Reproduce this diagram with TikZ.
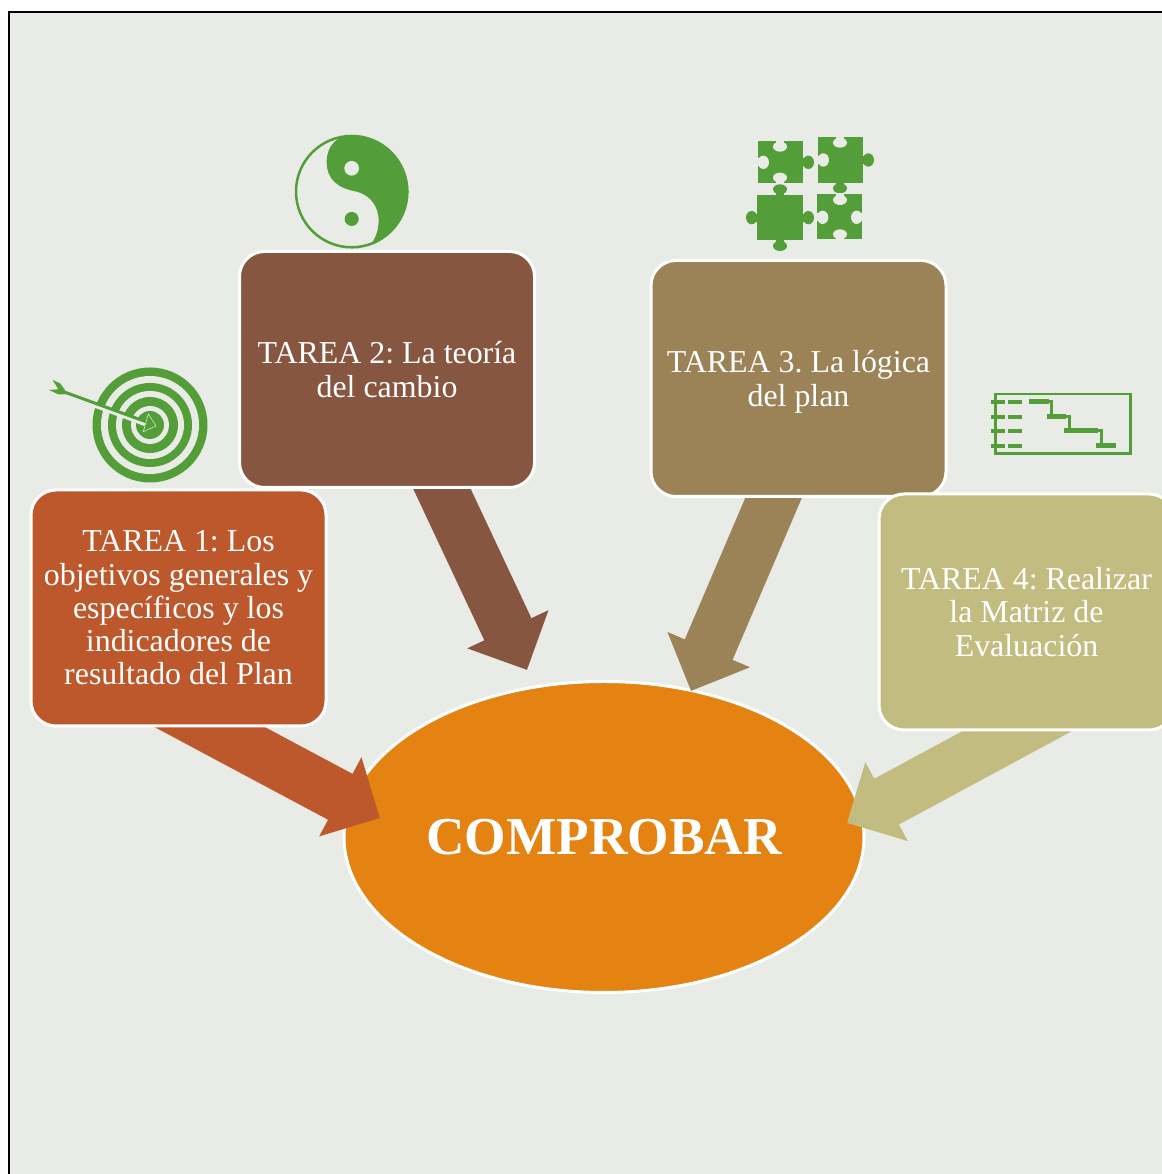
\documentclass[tikz,border=0pt]{standalone}
\usepackage{fontspec}
\setmainfont{Liberation Serif}
\usetikzlibrary{positioning,arrows.meta,backgrounds,shapes.geometric}
\definecolor{pagecol}{HTML}{E9EBE6}
\definecolor{iconcol}{HTML}{549E39}
\definecolor{goalcol}{HTML}{E48312}
\definecolor{taskcol1}{HTML}{BD582C}
\definecolor{taskcol2}{HTML}{865640}
\definecolor{taskcol3}{HTML}{9B8357}
\definecolor{taskcol4}{HTML}{C2BC80}
\tikzset{
    taskbox/.style={draw=white, line width=3pt, rounded corners=25pt, minimum width=295pt, minimum height=236pt,
        inner sep=0pt, align=center, text=white, font=\fontsize{31.9}{33.2}\selectfont\frenchspacing},
    goalcycle/.style={ellipse, draw=white, fill=goalcol, line width=3pt, line join=round, minimum width=520pt, minimum height=311pt,
        inner sep=0pt, text=white, font=\fontsize{53.3}{56}\selectfont\bfseries},
    taskarrow/.style={-{Triangle[length=45pt,width=87pt]}, line width=52pt, shorten <=-70pt},
}

\begin{document}
\begin{tikzpicture}[x=1pt,y=1pt]
\useasboundingbox (0,0) rectangle (1161,1174);

\node[taskbox,fill=taskcol1] (t1) at (178.5,566) {TAREA 1: Los\\objetivos generales y\\específicos y los\\indicadores de\\resultado del Plan};
\node[taskbox,fill=taskcol2] (t2) at (387,804.5) {TAREA 2: La teoría\\del cambio};
\node[taskbox,fill=taskcol3] (t3) at (798.5,795.5) {TAREA 3. La lógica\\del \smash{p}lan};
\node[taskbox,fill=taskcol4] (t4) at (1026.5,562) {TAREA 4: Realizar\\la Matriz de\\Evaluación};

\coordinate (tip1) at (380,356);
\coordinate (tip2) at (527,504);
\coordinate (tip3) at (691,483);
\coordinate (tip4) at (847,351);

%=========================
% Page, goal and arrows
%=========================
\begin{scope}[on background layer]
  \draw[black,line width=1.5pt,fill=pagecol] (9,1162) rectangle (1175,-10);
  \node[goalcycle] (goal) at (604,337) {COMPROBAR};
  \foreach \i/\dx in {1/32,2/55,3/-25,4/-10}{
    \draw[taskarrow,draw=taskcol\i] ([xshift=\dx pt]t\i.south) -- (tip\i);
  }
\end{scope}

% target
\foreach \r/\c in {57.5/iconcol,49/pagecol,42/iconcol,34/pagecol,28/iconcol,19/pagecol,14/iconcol}{
  \fill[\c] (150,749) circle (\r);
}
\begin{scope}[shift={(30,824)},x=0.3333pt,y=-0.3333pt]
  \draw[pagecol,line width=4.2pt] (195,167) -- (345,222);
  \draw[iconcol,line width=3pt] (100,125) -- (350,216);
  \fill[iconcol] (68,90) -- (90,100) -- (105,120) -- (105,133) -- (85,133) -- (57,120) -- (85,118) -- cycle;
  \draw[pagecol,fill=iconcol,line width=0.5pt] (355,192) -- (378,228) -- (340,245) -- cycle;
\end{scope}

% yin yang
\begin{scope}[shift={(280,1049)},x=0.3333pt,y=-0.3333pt]
  \draw[iconcol,line width=2.5pt] (215,200) circle (167);
  \begin{scope}
    \clip (215,200) circle (170);
    \fill[iconcol] (215,20) -- (400,20) -- (400,385) -- (255,385) -- (262,368)
      .. controls (305,335) and (320,225) .. (230,200)
      .. controls (175,190) and (140,165) .. (140,110)
      .. controls (140,60) and (175,30) .. (215,30) -- cycle;
  \end{scope}
  \fill[pagecol] (215,130) circle (22);
  \fill[iconcol] (215,282) circle (21);
\end{scope}

% puzzle
\begin{scope}[shift={(730,1054)},x=0.3333pt,y=-0.3333pt]
  \fill[iconcol] (83,64) rectangle (219,188);
  \fill[iconcol] (263,52) rectangle (398,188);
  \fill[iconcol] (82,226) rectangle (218,361);
  \fill[iconcol] (262,223) rectangle (397,358);
  % knobs
  \foreach \x/\y/\ex/\ey/\rx/\ry in {235/127/215/127/17/20,415/120/394/120/17/20,330/205/330/184/21/15,150/208/150/230/21/15,
                                     65/293/86/293/17/20,235/293/214/293/17/20,150/378/150/357/21/15}{
    \draw[iconcol,line width=8pt] (\ex,\ey) -- (\x,\y);
    \fill[iconcol] (\x,\y) ellipse [x radius=\rx,y radius=\ry];
  }
  % notches
  \foreach \x/\y/\ex/\ey/\rx/\ry in {150/80/150/60/21/15,100/127/79/127/17/20,150/173/150/192/21/15,330/68/330/48/21/15,
                                     280/120/259/120/17/20,330/240/330/219/21/15,278/292/258/292/17/20,
                                     380/292/401/292/17/20,330/343/330/362/21/15}{
    \draw[pagecol,line width=8pt] (\ex,\ey) -- (\x,\y);
    \fill[pagecol] (\x,\y) ellipse [x radius=\rx,y radius=\ry];
  }
\end{scope}

% gantt
\begin{scope}[shift={(980,794)},x=0.3333pt,y=-0.3333pt,iconcol]
  \draw[line width=2.4pt] (46,42) rectangle (452,220);
  \foreach \y in {66,111,153,198}{
    \draw[line width=4pt] (33,\y) -- (75,\y);
    \draw[line width=4pt] (84,\y) -- (126,\y);
  }
  \foreach \a/\b/\y in {148/207/66,200/258/110,252/355/153,349/407/197}{
    \draw[line width=5pt] (\a,\y) -- (\b,\y);
  }
  \draw[line width=3pt] (207,66) -| (215,102);
  \draw[line width=3pt] (258,110) -| (267,145);
  \draw[line width=3pt] (355,153) -| (363,189);
\end{scope}

\end{tikzpicture}
\end{document}
